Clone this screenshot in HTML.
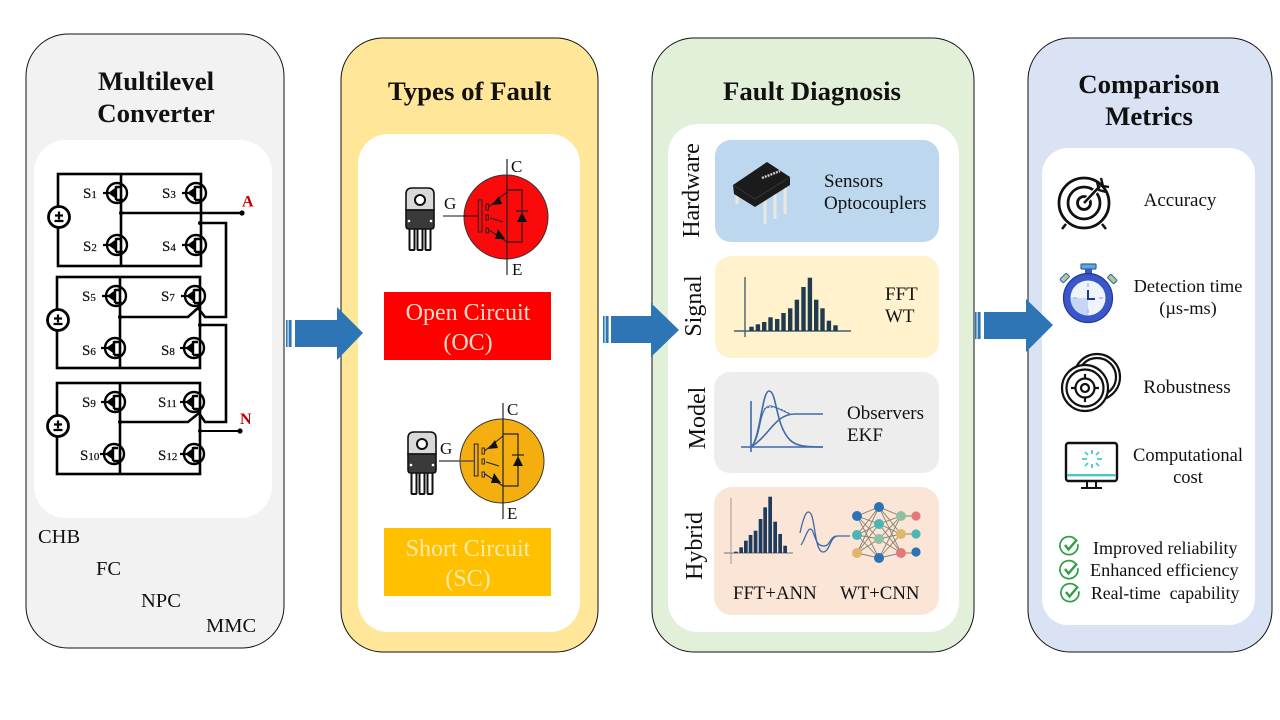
<!DOCTYPE html>
<html lang="en"><head><meta charset="utf-8"><title>Fault diagnosis diagram</title>
<style>html,body{margin:0;padding:0;background:#fff}svg{display:block}text{font-family:"Liberation Serif",serif;fill:#111}</style></head>
<body>
<svg width="1280" height="720" viewBox="0 0 1280 720" xmlns="http://www.w3.org/2000/svg">
<defs>
<g id="mos" fill="none" stroke="#000">
<circle r="10" stroke-width="2.4"/>
<path d="M-14 0H-1" stroke-width="2.2"/>
<path d="M-8 0l5.5-4v8z" fill="#000" stroke-width="1"/>
<path d="M-1-7V7" stroke-width="2.4"/>
<path d="M-1-6H4M-1 7H6" stroke-width="2.4"/>
</g>
<g id="bat" fill="#fff" stroke="#000">
<circle r="10.5" stroke-width="2.8"/>
<path d="M-4-1.5H4M0-5.5V2.5M-4.5 4H4.5" stroke-width="2.2" fill="none"/>
</g>
<g id="igbt" stroke="#222" fill="none">
<path d="M1-58V58" stroke-width="1.2"/>
<path d="M1-27H16V25H1" stroke-width="1.2"/>
<path d="M-17.5-10L1-25M-17 13L1 25M-16 1L-3 5" stroke-width="1.1"/>
<rect x="-27.7" y="-17" width="3.7" height="32" stroke-width="1"/>
<rect x="-20" y="-13" width="2.5" height="6" stroke-width=".9"/>
<rect x="-20" y="-2" width="2.5" height="5" stroke-width=".9"/>
<rect x="-20" y="11" width="2.5" height="5" stroke-width=".9"/>
<path d="M-14-12L-4-13L-7-21Z M-11 22L-1 22L-8 12Z M11 5L21 5L16-5Z" fill="#111" stroke="none"/>
<path d="M10-6H22" stroke-width="1.2"/>
</g>
<g id="to220" stroke="#111" stroke-width="1.6">
<rect x="3.5" y="40" width="5" height="22" rx="1" fill="#fff" stroke-width="2"/>
<rect x="11.5" y="40" width="5" height="22" rx="1" fill="#fff" stroke-width="2"/>
<rect x="19.5" y="40" width="5" height="22" rx="1" fill="#fff" stroke-width="2"/>
<path d="M0 6Q0 0 6 0H22Q28 0 28 6V22H0Z" fill="#d9d9d9"/>
<path d="M0 22H28V38Q28 41 25 41H3Q0 41 0 38Z" fill="#3a3a3a"/>
<circle cx="14" cy="12" r="5" fill="#fff" stroke-width="2"/>
<circle cx="3" cy="33" r="1.3" fill="#fff" stroke="none"/><circle cx="25" cy="33" r="1.3" fill="#fff" stroke="none"/>
</g>
<g id="chk" fill="none" stroke="#2f9e44">
<path d="M6.5-6.5A9 9 0 1 0 8.8-1.8" stroke-width="1.7"/>
<path d="M-4-1L-.5 3.5L8-6.5" stroke-width="2.4"/>
</g>
</defs>

<rect width="1280" height="720" fill="#fff"/>

<!-- panels -->
<rect x="26" y="34" width="258" height="614" rx="42" fill="#f2f2f2" stroke="#111" stroke-width="1"/>
<rect x="34" y="140" width="238" height="378" rx="32" fill="#fff"/>
<rect x="341" y="38" width="257" height="614" rx="42" fill="#ffe699" stroke="#111" stroke-width="1"/>
<rect x="358" y="134" width="222" height="498" rx="30" fill="#fff"/>
<rect x="652" y="38" width="322" height="614" rx="42" fill="#e2f0d9" stroke="#111" stroke-width="1"/>
<rect x="668" y="124" width="291" height="508" rx="30" fill="#fff"/>
<rect x="1028" y="38" width="244" height="614" rx="42" fill="#dae3f3" stroke="#111" stroke-width="1"/>
<rect x="1042" y="148" width="213" height="477" rx="26" fill="#fff"/>

<!-- titles -->
<g font-weight="bold" font-size="26.8" text-anchor="middle">
<text x="156" y="90">Multilevel</text>
<text x="156" y="122">Converter</text>
<text x="469.5" y="100">Types of Fault</text>
<text x="812" y="100">Fault Diagnosis</text>
<text x="1149" y="93">Comparison</text>
<text x="1149" y="125">Metrics</text>
</g>

<!-- circuit -->
<g fill="none" stroke="#000" stroke-width="2.6">
<rect x="58" y="174" width="143" height="92"/>
<rect x="57" y="277" width="143" height="91"/>
<rect x="57" y="383" width="143" height="91"/>
<path d="M121 174V266M120 277V368M120 383V474"/>
<path d="M121 213H242"/>
<path d="M200 223H226V317H205L198 308L188 317H120"/>
<path d="M200 325H226V422H205L199 413L188 422H120"/>
<path d="M200 431H240" stroke-width="2"/>
</g>
<g fill="#000"><circle cx="242" cy="213" r="2.6"/><circle cx="240" cy="431" r="2.6"/><circle cx="121" cy="213" r="2"/><circle cx="200" cy="223" r="2"/><circle cx="120" cy="317" r="2"/><circle cx="200" cy="325" r="2"/><circle cx="120" cy="422" r="2"/><circle cx="200" cy="431" r="2"/></g>
<use href="#bat" x="59" y="217"/><use href="#bat" x="58" y="320"/><use href="#bat" x="58" y="426"/>
<use href="#mos" x="117" y="193"/><use href="#mos" x="196" y="193"/><use href="#mos" x="117" y="245"/><use href="#mos" x="196" y="245"/>
<use href="#mos" x="116" y="296"/><use href="#mos" x="195" y="296"/><use href="#mos" x="115" y="348"/><use href="#mos" x="194" y="348"/>
<use href="#mos" x="115" y="402"/><use href="#mos" x="194" y="402"/><use href="#mos" x="114" y="454"/><use href="#mos" x="194" y="454"/>
<g font-size="15" stroke="#000" stroke-width=".2">
<text x="83" y="198">S<tspan font-size="11">1</tspan></text>
<text x="162" y="198">S<tspan font-size="11">3</tspan></text>
<text x="83" y="251">S<tspan font-size="11">2</tspan></text>
<text x="162" y="251">S<tspan font-size="11">4</tspan></text>
<text x="82" y="301">S<tspan font-size="11">5</tspan></text>
<text x="161" y="301">S<tspan font-size="11">7</tspan></text>
<text x="82" y="355">S<tspan font-size="11">6</tspan></text>
<text x="161" y="355">S<tspan font-size="11">8</tspan></text>
<text x="82" y="407">S<tspan font-size="11">9</tspan></text>
<text x="158" y="407">S<tspan font-size="11">11</tspan></text>
<text x="80" y="460">S<tspan font-size="11">10</tspan></text>
<text x="158" y="460">S<tspan font-size="11">12</tspan></text>
</g>
<text x="242" y="206.5" font-size="16" font-weight="bold" style="fill:#c00000">A</text>
<text x="240" y="424" font-size="16" font-weight="bold" style="fill:#c00000">N</text>

<g font-size="20.5">
<text x="38" y="543">CHB</text>
<text x="96" y="575">FC</text>
<text x="141" y="607">NPC</text>
<text x="206" y="632">MMC</text>
</g>

<!-- arrows -->
<g fill="#2e75b6">
<path d="M295 320H337V307L363 333L337 360V347H295Z"/>
<rect x="286" y="320" width="1.6" height="27"/><rect x="288.6" y="320" width="3" height="27"/>
<path d="M611 316H651V303L679 330L651 357V343H611Z"/>
<rect x="603" y="316" width="1.6" height="27"/><rect x="605.6" y="316" width="3" height="27"/>
<path d="M984 312H1026V299L1053 325L1026 352V339H984Z"/>
<rect x="975" y="312" width="1.6" height="27"/><rect x="977.6" y="312" width="3" height="27"/>
</g>

<!-- fault types -->
<circle cx="506" cy="217" r="42" fill="#fa0a0a" stroke="#333" stroke-width="1"/>
<use href="#igbt" x="506" y="217"/>
<path d="M443 216H478" stroke="#111" stroke-width="1.1"/>
<use href="#to220" x="406" y="188"/>
<text x="444" y="209" font-size="17">G</text>
<text x="511" y="172" font-size="17">C</text>
<text x="512" y="275" font-size="17">E</text>
<rect x="384" y="292" width="167" height="68" fill="#ff0000"/>
<text x="468" y="320" font-size="24" text-anchor="middle" style="fill:#fbdcc8">Open Circuit</text>
<text x="468" y="350" font-size="24" text-anchor="middle" style="fill:#fbdcc8">(OC)</text>

<circle cx="502" cy="461" r="42" fill="#f4ae10" stroke="#333" stroke-width="1"/>
<use href="#igbt" x="502" y="461"/>
<path d="M439 461H474" stroke="#555" stroke-width="1.4"/>
<use href="#to220" x="408" y="432"/>
<text x="440" y="454" font-size="17">G</text>
<text x="507" y="415" font-size="17">C</text>
<text x="507" y="519" font-size="17">E</text>
<rect x="384" y="528" width="167" height="68" fill="#ffc000"/>
<text x="468" y="556" font-size="24" text-anchor="middle" style="fill:#ffeaa8">Short Circuit</text>
<text x="468" y="586" font-size="24" text-anchor="middle" style="fill:#ffeaa8">(SC)</text>

<!-- diagnosis rows -->
<rect x="715" y="140" width="224" height="102" rx="16" fill="#bdd7ee"/>
<rect x="715" y="256" width="224" height="102" rx="16" fill="#fff2cc"/>
<rect x="714" y="372" width="225" height="101" rx="16" fill="#ededed"/>
<rect x="714" y="487" width="225" height="128" rx="18" fill="#fbe5d6"/>
<g font-size="24" text-anchor="middle">
<text transform="translate(699 190.5) rotate(-90)">Hardware</text>
<text transform="translate(701 306) rotate(-90)">Signal</text>
<text transform="translate(705 418) rotate(-90)">Model</text>
<text transform="translate(702 546) rotate(-90)">Hybrid</text>
</g>

<!-- chip -->
<g>
<path d="M737 186V204M765 200V224M775 194V219M785 187V214" stroke="#e8e8e0" stroke-width="3" fill="none"/>
<path d="M733 185L767 162L790 177V185L755 207L734 194Z" fill="#1b1b1b"/>
<path d="M733 185L755 199L790 177" fill="none" stroke="#3a3a3a" stroke-width=".8"/>
<path d="M762 178L780 171" stroke="#ccc" stroke-width="2.4" stroke-dasharray="2 1"/>
</g>
<g font-size="19">
<text x="824" y="187">Sensors</text>
<text x="824" y="209">Optocouplers</text>
<text x="885" y="300">FFT</text>
<text x="885" y="322">WT</text>
<text x="847" y="419">Observers</text>
<text x="847" y="441">EKF</text>
<text x="733" y="599" font-size="18.8">FFT+ANN</text>
<text x="840" y="599" font-size="18.8">WT+CNN</text>
</g>

<!-- signal histogram -->
<path d="M745 277V337M734 331H851" stroke="#43606e" stroke-width="1.4" fill="none"/>
<g fill="#1f3b4d">
<rect x="749.3" y="326.7" width="4.4" height="4.3"/><rect x="755.7" y="324.3" width="4.4" height="6.7"/><rect x="762" y="322" width="4.4" height="9"/><rect x="768.3" y="317.3" width="4.4" height="13.7"/><rect x="775" y="319" width="4.4" height="12"/><rect x="781.3" y="313" width="4.4" height="18"/><rect x="788" y="308.3" width="4.4" height="22.7"/><rect x="794.7" y="299.7" width="4.4" height="31.3"/><rect x="801.3" y="287" width="4.4" height="44"/><rect x="807.7" y="277.7" width="4.4" height="53.3"/><rect x="814" y="299.7" width="4.4" height="31.3"/><rect x="820.3" y="308.3" width="4.4" height="22.7"/><rect x="826.7" y="320.7" width="4.4" height="10.3"/><rect x="833.3" y="325.3" width="4.4" height="5.7"/>
</g>

<!-- model chart -->
<g fill="none" stroke="#3f6aa8" stroke-width="1.6">
<path d="M751 401V452M741 447H823"/>
<path d="M751 447C760 440 762 391 769 391C777 391 775 425 790 440C796 446 805 447 823 447"/>
<path d="M751 447C770 435 775 414 795 414H823"/>
<path d="M753 445C760 435 760 415 765 409C770 402 775 408 790 414" stroke-width="1"/>
<path d="M764 409C772 405 780 408 790 414" stroke-dasharray="2 1.5" stroke-width="1"/>
</g>

<!-- hybrid histogram -->
<path d="M731 498V564" stroke="#bdaea2" stroke-width="1.4"/>
<path d="M724 553H793" stroke="#8a8a8a" stroke-width="1.2"/>
<g fill="#1f3b5e">
<rect x="734" y="551.7" width="3.7" height="1.3"/><rect x="739.3" y="547.3" width="3.7" height="5.7"/><rect x="744" y="540.7" width="3.7" height="12.3"/><rect x="748.7" y="535" width="3.7" height="18"/><rect x="753.7" y="530.7" width="3.7" height="22.3"/><rect x="758.7" y="519" width="3.7" height="34"/><rect x="763.3" y="507.3" width="3.7" height="45.7"/><rect x="768.3" y="496.7" width="3.7" height="56.3"/><rect x="773.3" y="521.7" width="3.7" height="31.3"/><rect x="778.3" y="534" width="3.7" height="19"/><rect x="783.3" y="545.7" width="3.7" height="7.3"/>
</g>
<g fill="none" stroke="#3f6aa8" stroke-width="1.3">
<path d="M800 533C805 510 808 510 811 514C815 520 815 552 823 552C830 552 830 536 838 536H850"/>
<path d="M801 545C805 540 808 525 812 530C816 538 816 546 824 546C830 546 830 537 836 536"/>
</g>
<!-- network -->
<g stroke="#84826f" stroke-width=".9" fill="none">
<path d="M857 516L879 507L857 516L879 524L857 516L879 539L857 516L879 558M857 535L879 507M857 535L879 524M857 535L879 539M857 535L879 558M857 553L879 507M857 553L879 524M857 553L879 539M857 553L879 558"/>
<path d="M879 507L901 516M879 507L901 534M879 507L901 553M879 524L901 516M879 524L901 534M879 524L901 553M879 539L901 516M879 539L901 534M879 539L901 553M879 558L901 516M879 558L901 534M879 558L901 553"/>
<path d="M901 516H916M901 534H916M901 553H916"/>
</g>
<g>
<circle cx="857" cy="516" r="5" fill="#2b73b5"/><circle cx="857" cy="535" r="5" fill="#4cb5b5"/><circle cx="857" cy="553" r="5" fill="#e0b56c"/>
<circle cx="879" cy="507" r="5" fill="#2b73b5"/><circle cx="879" cy="524" r="5" fill="#4cb5b5"/><circle cx="879" cy="539" r="5" fill="#8fbfa5"/><circle cx="879" cy="558" r="5" fill="#2b73b5"/>
<circle cx="901" cy="516" r="5" fill="#8fbfa5"/><circle cx="901" cy="534" r="5" fill="#e0b56c"/><circle cx="901" cy="553" r="5" fill="#e07a7a"/>
<circle cx="916" cy="516" r="4.6" fill="#e07a7a"/><circle cx="916" cy="534" r="4.6" fill="#4cb5b5"/><circle cx="916" cy="552" r="4.6" fill="#2b73b5"/>
</g>

<!-- metric icons -->
<g fill="none" stroke="#111">
<circle cx="1084" cy="203" r="25" stroke-width="2.8"/>
<circle cx="1084" cy="203" r="16" stroke-width="2.8"/>
<circle cx="1084" cy="203" r="6.5" stroke-width="2.8"/>
<path d="M1084 203L1100 186" stroke="#fff" stroke-width="5"/>
<path d="M1084 203L1100 186" stroke-width="2.6"/>
<path d="M1097 182L1099 190L1106 192M1101 178L1103 186L1109 187" stroke-width="2.4"/>
<path d="M1066 224L1062 229M1102 224L1106 229" stroke-width="2.6"/>
</g>

<!-- stopwatch -->
<g>
<rect x="1081" y="264" width="15" height="5" rx="1" fill="#55b0d0" stroke="#3a56c8" stroke-width="1.2"/>
<rect x="1085" y="269" width="7" height="6" fill="#3a56c8"/>
<rect x="1060" y="276" width="9" height="5" rx="1" fill="#a8d08d" stroke="#3a56c8" stroke-width="1" transform="rotate(-45 1064 278)"/>
<rect x="1108" y="277" width="9" height="5" rx="1" fill="#a8d08d" stroke="#3a56c8" stroke-width="1" transform="rotate(45 1113 279)"/>
<circle cx="1088" cy="298" r="24.5" fill="#3a56c8" stroke="#1f3a93" stroke-width="1.2"/>
<circle cx="1088" cy="298" r="17.5" fill="#eef3fc"/>
<path d="M1088 298V315.5A17.5 17.5 0 0 1 1070.5 298Z" fill="#c6d6f5"/>
<path d="M1088 283V287M1088 309V313M1073 298H1077M1099 298H1103" stroke="#a9bde8" stroke-width="1.4"/>
<path d="M1088 290V299H1095" fill="none" stroke="#1f3a93" stroke-width="2"/>
</g>

<!-- robustness -->
<g fill="#fff" stroke="#111" stroke-width="2.2">
<circle cx="1097" cy="377" r="23"/><circle cx="1097" cy="377" r="19"/>
<circle cx="1085" cy="388" r="23"/><circle cx="1085" cy="388" r="18.5"/>
<circle cx="1085" cy="388" r="9.5"/><circle cx="1085" cy="388" r="4"/>
<path d="M1085 374V379M1085 397V402M1071 388H1076M1094 388H1099" fill="none"/>
</g>

<!-- monitor -->
<g>
<rect x="1066" y="443" width="51" height="38" rx="2.5" fill="#fff" stroke="#111" stroke-width="2.4"/>
<rect x="1067" y="474" width="49" height="2.4" fill="#48c6cf"/>
<path d="M1087 482V487M1096 482V487M1081 488H1102" stroke="#111" stroke-width="2"/>
<path d="M1092 450V454M1092 464V468M1082 459H1087M1097 459H1102M1085 452L1088 455M1096 463L1099 466M1085 466L1088 463M1096 455L1099 452" stroke="#48c6cf" stroke-width="1.8"/>
</g>

<!-- metric labels -->
<g text-anchor="middle">
<text x="1180" y="206" font-size="19">Accuracy</text>
<text x="1188" y="292" font-size="18.4">Detection time</text>
<text x="1188" y="314" font-size="18.4">(µs-ms)</text>
<text x="1187" y="393" font-size="19.2">Robustness</text>
<text x="1188" y="461" font-size="18.5">Computational</text>
<text x="1188" y="483" font-size="18.5">cost</text>
</g>
<use href="#chk" x="1069" y="546"/><use href="#chk" x="1069" y="570"/><use href="#chk" x="1070" y="593"/>
<g>
<text x="1093" y="554" font-size="18">Improved reliability</text>
<text x="1090" y="576" font-size="18.2">Enhanced efficiency</text>
<text x="1091" y="599" font-size="17.7" xml:space="preserve">Real-time  capability</text>
</g>
</svg>
</body></html>
